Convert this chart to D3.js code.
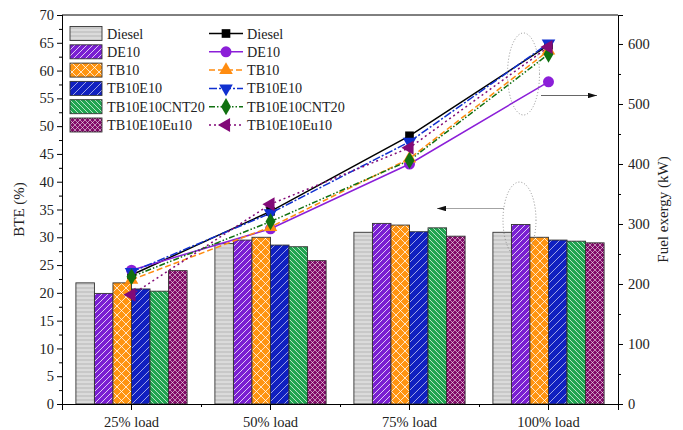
<!DOCTYPE html>
<html>
<head>
<meta charset="utf-8">
<script src="https://cdn.jsdelivr.net/npm/d3@7"></script>
<style>
  body { margin: 0; background: #fff; }
  svg text { font-family: "Liberation Serif", "Times New Roman", serif; fill: #222; }
</style>
</head>
<body>
<svg id="chart" width="683" height="430"></svg>
<script>
// data
const loads = ["25% load", "50% load", "75% load", "100% load"];
const fuels = ["Diesel", "DE10", "TB10", "TB10E10", "TB10E10CNT20", "TB10E10Eu10"];

// BTE (%) bars, one array per fuel, in load order
const bteDiesel = [21.8, 28.9, 30.9, 30.9];
const bteDE10   = [19.9, 29.5, 32.5, 32.3];
const bteTB10   = [21.8, 30.0, 32.2, 30.0];
const bteTB10E10 = [20.7, 28.6, 31.0, 29.5];
const bteCNT20  = [20.3, 28.3, 31.7, 29.3];
const bteEu10   = [24.0, 25.8, 30.2, 29.0];

// fuel exergy (kW) lines
const exDiesel = [215, 321, 447, 598];
const exDE10   = [223, 292, 400, 537];
const exTB10   = [207, 295, 409, 589];
const exTB10E10 = [220, 318, 437, 601];
const exCNT20  = [212, 304, 406, 583];
const exEu10   = [182, 333, 427, 595];

const bteTicks = d3.range(0, 71, 5);
const exTicks = d3.range(0, 601, 100);

const bteSeries = [bteDiesel, bteDE10, bteTB10, bteTB10E10, bteCNT20, bteEu10];
const exSeries = [exDiesel, exDE10, exTB10, exTB10E10, exCNT20, exEu10];

const barFill = ["#c8c8c8", "#7a1fd2", "#ff9410", "#1020c0", "#20a550", "#820a68"];
const lineColor = ["#000000", "#8b1fd8", "#ff8c10", "#1030d0", "#107010", "#820a78"];
const lineDash = [null, null, "6,3", "8,2,2,2", "6,2,1.5,2,1.5,2", "2,3"];
const markerType = [d3.symbolSquare, d3.symbolCircle, d3.symbolTriangle, d3.symbolTriangle, d3.symbolDiamond, d3.symbolTriangle];
const markerRot = [0, 0, 0, 180, 0, -90];

const svg = d3.select("#chart");
const L = 62, R = 618, T = 15, B = 404;

const x = d3.scaleBand().domain(loads).range([L, R]).paddingInner(0).paddingOuter(0);
const xi = d3.scaleBand().domain(d3.range(fuels.length)).range([0, x.bandwidth() * 0.8]);
const y = d3.scaleLinear().domain([0, 70]).range([B, T]);
const y2 = d3.scaleLinear().domain([0, 648.3]).range([B, T]);

// hatch patterns
const defs = svg.append("defs");
function pat(id, bg, size, paths, sw, op) {
  const p = defs.append("pattern").attr("id", id).attr("patternUnits", "userSpaceOnUse")
    .attr("width", size).attr("height", size);
  p.append("rect").attr("width", size).attr("height", size).attr("fill", bg);
  paths.forEach(d => p.append("path").attr("d", d).attr("stroke", "#fff")
    .attr("stroke-width", sw).attr("stroke-opacity", op).attr("fill", "none"));
}
pat("p0", barFill[0], 4, ["M0,2H4"], 0.9, 0.75);
pat("p1", barFill[1], 6, ["M0,6L6,0", "M-1,1L1,-1", "M5,7L7,5"], 0.9, 0.85);
pat("p2", barFill[2], 9, ["M0,0L9,9", "M0,9L9,0"], 0.9, 0.85);
pat("p3", barFill[3], 8, ["M0,8L8,0", "M-1,1L1,-1", "M7,9L9,7"], 0.8, 0.75);
pat("p4", barFill[4], 5, ["M0,0L5,5", "M-1,4L1,6", "M4,-1L6,1"], 0.8, 0.85);
pat("p5", barFill[5], 5, ["M0,0L5,5", "M0,5L5,0"], 0.7, 0.75);

// bars
const g = svg.append("g");
loads.forEach((ld, i) => {
  const x0 = x(ld) + x.bandwidth() * 0.1;
  fuels.forEach((f, k) => {
    g.append("rect")
      .attr("x", x0 + xi(k)).attr("width", xi.bandwidth())
      .attr("y", y(bteSeries[k][i])).attr("height", B - y(bteSeries[k][i]))
      .attr("fill", "url(#p" + k + ")").attr("stroke", "#333").attr("stroke-width", 0.9);
  });
});

// lines
const cx = d => x(d) + x.bandwidth() / 2;
fuels.forEach((f, k) => {
  const line = d3.line().x((v, i) => cx(loads[i])).y(v => y2(v));
  svg.append("path").datum(exSeries[k]).attr("d", line).attr("fill", "none")
    .attr("stroke", lineColor[k]).attr("stroke-width", 1.5)
    .attr("stroke-dasharray", lineDash[k]);
});
const msize = [75, 95, 80, 80, 85, 85];
fuels.forEach((f, k) => {
  const sym = d3.symbol().type(markerType[k]).size(msize[k]);
  exSeries[k].forEach((v, i) => {
    svg.append("path").attr("d", sym())
      .attr("transform", `translate(${cx(loads[i])},${y2(v)}) rotate(${markerRot[k]})`)
      .attr("fill", lineColor[k]);
  });
});

// annotations
svg.append("ellipse").attr("cx", cx(loads[3]) - 25).attr("cy", y2(550)).attr("rx", 16).attr("ry", 41)
  .attr("fill", "none").attr("stroke", "#777").attr("stroke-width", 0.8).attr("stroke-dasharray", "1,2");
svg.append("ellipse").attr("cx", cx(loads[3]) - 29).attr("cy", y(33.1)).attr("rx", 16.5).attr("ry", 38)
  .attr("fill", "none").attr("stroke", "#777").attr("stroke-width", 0.8).attr("stroke-dasharray", "1,2");
defs.append("marker").attr("id", "arr").attr("viewBox", "0 0 10 6").attr("refX", 10).attr("refY", 3)
  .attr("markerWidth", 10).attr("markerHeight", 6).attr("orient", "auto-start-reverse")
  .append("path").attr("d", "M0,0L10,3L0,6Z").attr("fill", "#111");
svg.append("line").attr("x1", 541).attr("x2", 597).attr("y1", 95.5).attr("y2", 95.5)
  .attr("stroke", "#555").attr("stroke-width", 0.9).attr("marker-end", "url(#arr)");
svg.append("line").attr("x1", 504).attr("x2", 437).attr("y1", 208.5).attr("y2", 208.5)
  .attr("stroke", "#999").attr("stroke-width", 0.9).attr("marker-end", "url(#arr)");

// axes
svg.append("g").attr("transform", `translate(${L},0)`)
  .call(d3.axisLeft(y).tickValues(bteTicks).tickSize(5).tickPadding(3));
svg.append("g").attr("transform", `translate(${L},0)`)
  .call(d3.axisLeft(y).tickValues(d3.range(2.5, 70, 5)).tickSize(3).tickFormat(""));
svg.append("g").attr("transform", `translate(${R},0)`)
  .call(d3.axisRight(y2).tickValues(exTicks).tickSize(5).tickPadding(5));
svg.append("g").attr("transform", `translate(${R},0)`)
  .call(d3.axisRight(y2).tickValues(d3.range(50, 650, 100)).tickSize(3).tickFormat(""));
svg.append("g").attr("transform", `translate(0,${B})`)
  .call(d3.axisBottom(x).tickSize(6).tickPadding(7));
svg.append("g").attr("transform", `translate(0,${B})`)
  .call(d3.axisBottom(d3.scaleLinear().domain([0, 4]).range([L, R])).tickValues([1, 2, 3]).tickSize(3).tickFormat(""));
svg.append("line").attr("x1", L).attr("x2", R).attr("y1", T).attr("y2", T).attr("stroke", "#000");
svg.selectAll(".domain").attr("stroke", "#000");
svg.selectAll(".tick line").attr("stroke", "#000");
svg.selectAll(".tick text").style("font-size", "14.5px").attr("fill", "#222");

svg.append("text").attr("transform", `translate(24,${(T + B) / 2}) rotate(-90)`)
  .attr("text-anchor", "middle").style("font-size", "15px").text("BTE (%)");
svg.append("text").attr("transform", `translate(668,${(T + B) / 2}) rotate(-90)`)
  .attr("text-anchor", "middle").style("font-size", "15px").text("Fuel exergy (kW)");

// legend
const lg = svg.append("g");
fuels.forEach((f, k) => {
  const yy = 33.5 + k * 18.3;
  lg.append("rect").attr("x", 70).attr("y", yy - 7).attr("width", 32).attr("height", 14)
    .attr("fill", "url(#p" + k + ")").attr("stroke", "#333").attr("stroke-width", 0.9);
  lg.append("text").attr("x", 107).attr("y", yy + 5).style("font-size", "14.2px").text(f);
  lg.append("line").attr("x1", 209).attr("x2", 243).attr("y1", yy).attr("y2", yy)
    .attr("stroke", lineColor[k]).attr("stroke-width", 1.5).attr("stroke-dasharray", lineDash[k]);
  lg.append("path").attr("d", d3.symbol().type(markerType[k]).size(msize[k])())
    .attr("transform", `translate(226,${yy}) rotate(${markerRot[k]})`).attr("fill", lineColor[k]);
  lg.append("text").attr("x", 247).attr("y", yy + 5).style("font-size", "14.2px").text(f);
});
</script>
</body>
</html>
